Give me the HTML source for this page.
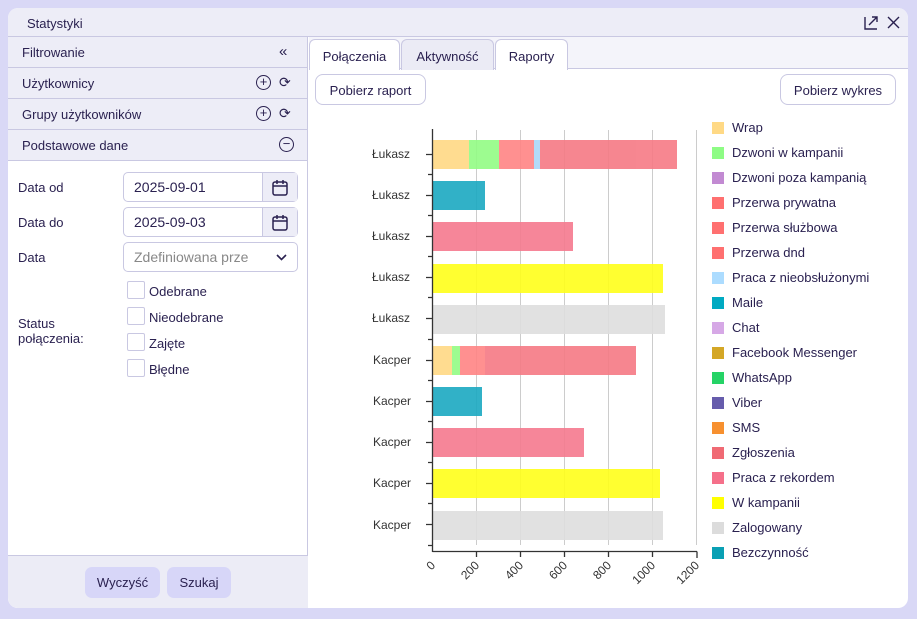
<!DOCTYPE html>
<html><head><meta charset="utf-8"><style>
*{box-sizing:border-box;margin:0;padding:0}
body{width:917px;height:619px;background:#d9d8f6;font-family:"Liberation Sans",sans-serif;color:#2a2150;position:relative;overflow:hidden}
.win{position:absolute;left:8px;top:8px;width:900px;height:600px;background:#fff;border-radius:10px;overflow:hidden}
.title{position:absolute;left:0;top:0;width:900px;height:29px;background:#ededf7;border-bottom:1px solid #c9c8e2;font-size:13px;padding:8px 0 0 19px}
.left{position:absolute;left:0;top:29px;width:300px;height:571px;border-right:1px solid #c9c8e2;background:#fff}
.row{height:31px;background:#ededf7;border-bottom:1px solid #c9c8e2;font-size:13px;padding:8px 0 0 14px;position:relative}
.ic{position:absolute;top:7px;width:15px;height:15px;border:1.5px solid #2a2150;border-radius:50%;font-size:13px;line-height:11px;text-align:center}
.lbl{position:absolute;left:10px;font-size:13px}
.inp{position:absolute;left:115px;width:175px;height:30px;border:1px solid #c9c8e2;border-radius:5px;font-size:14px;padding:6px 0 0 10px}
.cal{position:absolute;right:0;top:0;width:35px;height:28px;background:#ededf7;border-left:1px solid #c9c8e2}
.cb{position:absolute;left:119px;width:18px;height:18px;border:1px solid #c9c8e2;border-radius:2px}
.cbl{position:absolute;left:141px;font-size:13px}
.foot{position:absolute;left:0;top:518px;width:300px;height:53px;background:#ececf6;border-top:1px solid #c9c8e2}
.btn{position:absolute;top:11px;height:31px;background:#d7d6f8;border-radius:7px;font-size:13px;text-align:center;padding-top:8px}
.tabs{position:absolute;left:301px;top:29px;width:599px;height:32px;background:#f4f4fa;border-bottom:1px solid #c9c8e2}
.tab{position:absolute;top:2px;height:31px;border:1px solid #c9c8e2;border-bottom:none;border-radius:6px 6px 0 0;background:#fff;font-size:13px;text-align:center;padding-top:9px}
.pb{position:absolute;top:66px;height:31px;border:1px solid #c9c8e2;border-radius:8px;font-size:13px;text-align:center;padding-top:8px;background:#fff}
.leg{position:absolute;left:703px;font-size:13px}
.leg i{position:absolute;left:0;top:2px;width:12px;height:12px}
.leg span{position:absolute;left:20px;white-space:nowrap}
</style></head><body>
<div class="win">
<div class="title">Statystyki
<svg style="position:absolute;left:855px;top:7px" width="16" height="16" viewBox="0 0 16 16" fill="none" stroke="#2a2150" stroke-width="1.4"><path d="M2 2v12h12M9 2h5v5M14 2L6 10"/></svg>
<svg style="position:absolute;left:879px;top:8px" width="13" height="13" viewBox="0 0 13 13" stroke="#2a2150" stroke-width="1.4"><path d="M1 1L12 12M12 1L1 12"/></svg>
</div>
<div class="left">
<div class="row">Filtrowanie<span style="position:absolute;left:271px;top:6px;font-size:15px">«</span></div>
<div class="row">Użytkownicy<span class="ic" style="left:248px">+</span><span style="position:absolute;left:271px;top:6px;font-size:14px">⟳</span></div>
<div class="row">Grupy użytkowników<span class="ic" style="left:248px">+</span><span style="position:absolute;left:271px;top:6px;font-size:14px">⟳</span></div>
<div class="row">Podstawowe dane<span class="ic" style="left:271px">−</span></div>
<div class="lbl" style="top:143px">Data od</div>
<div class="inp" style="top:135px">2025-09-01<div class="cal"><svg style="margin:6px 0 0 9px" width="16" height="17" viewBox="0 0 16 17" fill="none" stroke="#2a2150" stroke-width="1.5"><rect x="1" y="3" width="14" height="13" rx="2"/><path d="M1 7h14M5 1v4M11 1v4"/></svg></div></div>
<div class="lbl" style="top:178px">Data do</div>
<div class="inp" style="top:170px">2025-09-03<div class="cal"><svg style="margin:6px 0 0 9px" width="16" height="17" viewBox="0 0 16 17" fill="none" stroke="#2a2150" stroke-width="1.5"><rect x="1" y="3" width="14" height="13" rx="2"/><path d="M1 7h14M5 1v4M11 1v4"/></svg></div></div>
<div class="lbl" style="top:213px">Data</div>
<div class="inp" style="top:205px;color:#888">Zdefiniowana prze<svg style="position:absolute;right:10px;top:11px" width="11" height="7" viewBox="0 0 11 7" fill="none" stroke="#2a2150" stroke-width="1.6"><path d="M1 1l4.5 4.5L10 1"/></svg></div>
<div class="lbl" style="top:279px;line-height:15px">Status<br>połączenia:</div>
<div class="cb" style="top:244px"></div><div class="cbl" style="top:247px">Odebrane</div>
<div class="cb" style="top:270px"></div><div class="cbl" style="top:273px">Nieodebrane</div>
<div class="cb" style="top:296px"></div><div class="cbl" style="top:299px">Zajęte</div>
<div class="cb" style="top:322px"></div><div class="cbl" style="top:325px">Błędne</div>
<div class="foot"><div class="btn" style="left:77px;width:75px">Wyczyść</div><div class="btn" style="left:159px;width:64px">Szukaj</div></div>
</div>
<div class="tabs">
<div class="tab" style="left:0;width:91px">Połączenia</div>
<div class="tab" style="left:92px;width:93px;background:#ebebf5">Aktywność</div>
<div class="tab" style="left:186px;width:73px">Raporty</div>
</div>
<div class="pb" style="left:307px;width:111px">Pobierz raport</div>
<div class="pb" style="left:772px;width:116px">Pobierz wykres</div>
</div>
<svg style="position:absolute;left:0;top:0" width="917" height="619" font-family="Liberation Sans,sans-serif" font-size="12">
<g stroke="#ccc" stroke-width="1"><path d="M476.5 130V545M520.5 130V545M564.5 130V545M608.5 130V545M652.5 130V545M696.5 130V545"/></g>
<g opacity="0.9">
<rect x="433" y="140" width="36" height="29" fill="#ffd985"/><rect x="469" y="140" width="30" height="29" fill="#93fc85"/><rect x="499" y="140" width="35" height="29" fill="#ff8585"/><rect x="534" y="140" width="6" height="29" fill="#aad8f8"/><rect x="540" y="140" width="137" height="29" fill="#f67a85"/>
<rect x="433" y="181" width="52" height="29" fill="#1ba9c2"/>
<rect x="433" y="222" width="140" height="29" fill="#f67a8f"/>
<rect x="433" y="264" width="230" height="29" fill="#ffff1a"/>
<rect x="433" y="305" width="232" height="29" fill="#dedede"/>
<rect x="433" y="346" width="19" height="29" fill="#ffd985"/><rect x="452" y="346" width="8" height="29" fill="#93fc85"/><rect x="460" y="346" width="25" height="29" fill="#ff8585"/><rect x="485" y="346" width="151" height="29" fill="#f67a85"/>
<rect x="433" y="387" width="49" height="29" fill="#1ba9c2"/>
<rect x="433" y="428" width="151" height="29" fill="#f67a8f"/>
<rect x="433" y="469" width="227" height="29" fill="#ffff1a"/>
<rect x="433" y="511" width="230" height="29" fill="#dedede"/>
</g>
<g stroke="#333" stroke-width="1.3" fill="none"><path d="M432.5 129V552M432.5 551.5H697M697 551.5V558"/>
<path d="M426 154.5h6M426 195.5h6M426 236.5h6M426 277.5h6M426 318.5h6M426 360.5h6M426 401.5h6M426 442.5h6M426 483.5h6M426 524.5h6M428 174.5h4M428 215.5h4M428 256.5h4M428 297.5h4M428 339.5h4M428 380.5h4M428 421.5h4M428 462.5h4M428 503.5h4M428 545.5h4M476.5 552v5M520.5 552v5M564.5 552v5M608.5 552v5M652.5 552v5"/></g>
<g fill="#333" text-anchor="end">
<text x="410" y="158">Łukasz</text><text x="410" y="199">Łukasz</text><text x="410" y="240">Łukasz</text><text x="410" y="281">Łukasz</text><text x="410" y="322">Łukasz</text>
<text x="411" y="364">Kacper</text><text x="411" y="405">Kacper</text><text x="411" y="446">Kacper</text><text x="411" y="487">Kacper</text><text x="411" y="529">Kacper</text>
</g>
<g fill="#333" font-size="12" text-anchor="end">
<text transform="translate(436,566) rotate(-45)">0</text><text transform="translate(480,566) rotate(-45)">200</text><text transform="translate(524,566) rotate(-45)">400</text><text transform="translate(568,566) rotate(-45)">600</text><text transform="translate(612,566) rotate(-45)">800</text><text transform="translate(656,566) rotate(-45)">1000</text><text transform="translate(700,566) rotate(-45)">1200</text>
</g>
</svg>
<div class="leg" style="top:120px;left:712px"><i style="background:#ffd985"></i><span>Wrap</span></div>
<div class="leg" style="top:145px;left:712px"><i style="background:#8efc85"></i><span>Dzwoni w kampanii</span></div>
<div class="leg" style="top:170px;left:712px"><i style="background:#c28ad2"></i><span>Dzwoni poza kampanią</span></div>
<div class="leg" style="top:195px;left:712px"><i style="background:#ff7070"></i><span>Przerwa prywatna</span></div>
<div class="leg" style="top:220px;left:712px"><i style="background:#ff7070"></i><span>Przerwa służbowa</span></div>
<div class="leg" style="top:245px;left:712px"><i style="background:#ff7070"></i><span>Przerwa dnd</span></div>
<div class="leg" style="top:270px;left:712px"><i style="background:#acdcff"></i><span>Praca z nieobsłużonymi</span></div>
<div class="leg" style="top:295px;left:712px"><i style="background:#00aac2"></i><span>Maile</span></div>
<div class="leg" style="top:320px;left:712px"><i style="background:#d6a8e6"></i><span>Chat</span></div>
<div class="leg" style="top:345px;left:712px"><i style="background:#d4a726"></i><span>Facebook Messenger</span></div>
<div class="leg" style="top:370px;left:712px"><i style="background:#25d366"></i><span>WhatsApp</span></div>
<div class="leg" style="top:395px;left:712px"><i style="background:#665cac"></i><span>Viber</span></div>
<div class="leg" style="top:420px;left:712px"><i style="background:#f7902f"></i><span>SMS</span></div>
<div class="leg" style="top:445px;left:712px"><i style="background:#f06a74"></i><span>Zgłoszenia</span></div>
<div class="leg" style="top:470px;left:712px"><i style="background:#f5708a"></i><span>Praca z rekordem</span></div>
<div class="leg" style="top:495px;left:712px"><i style="background:#ffff00"></i><span>W kampanii</span></div>
<div class="leg" style="top:520px;left:712px"><i style="background:#dcdcdc"></i><span>Zalogowany</span></div>
<div class="leg" style="top:545px;left:712px"><i style="background:#0aa0b4"></i><span>Bezczynność</span></div>
</body></html>
